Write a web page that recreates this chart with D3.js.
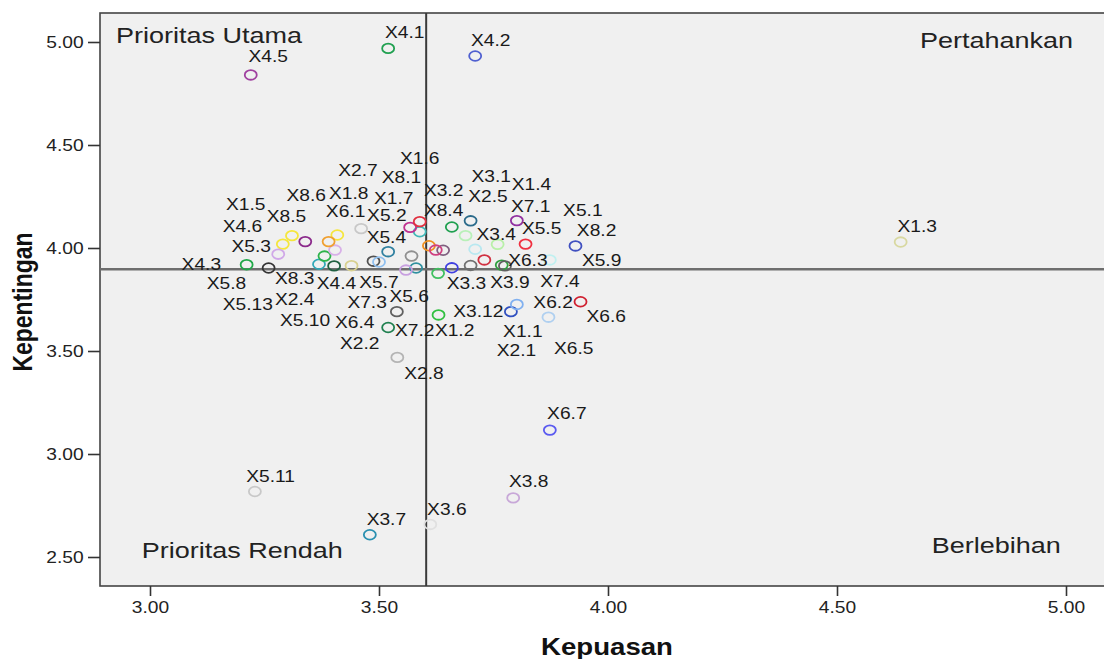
<!DOCTYPE html>
<html>
<head>
<meta charset="utf-8">
<script src="https://cdn.jsdelivr.net/npm/d3@7"></script>
<style>
body { margin: 0; background: #fff; }
svg { display: block; font-family: "Liberation Sans", Arial, sans-serif; }
</style>
</head>
<body>
<svg id="chart" width="1104" height="659"></svg>
<script>
// item names, satisfaction (x) and importance (y) means
const names = [
	"X1.1","X1.2","X1.3","X1.4","X1.5","X1.6","X1.7","X1.8",
	"X2.1","X2.2","X2.4","X2.5","X2.7","X2.8",
	"X3.1","X3.2","X3.3","X3.4","X3.6","X3.7","X3.8","X3.9","X3.12",
	"X4.1","X4.2","X4.3","X4.4","X4.5","X4.6",
	"X5.1","X5.2","X5.3","X5.4","X5.5","X5.6","X5.7","X5.8","X5.9","X5.10","X5.11","X5.13",
	"X6.1","X6.2","X6.3","X6.4","X6.5","X6.6","X6.7",
	"X7.1","X7.2","X7.3","X7.4",
	"X8.1","X8.2","X8.3","X8.4","X8.5","X8.6"
];
const kepuasan = [
	3.788,3.629,4.639,3.689,3.310,3.589,3.568,3.409,
	3.730,3.640,3.369,3.659,3.461,3.540,
	3.700,3.609,3.659,3.710,3.612,3.480,3.793,3.700,3.630,
	3.520,3.710,3.211,3.402,3.220,3.290,
	3.759,3.488,3.280,3.520,3.820,3.539,3.440,3.381,3.873,3.500,3.229,3.581,
	3.404,3.801,3.768,3.571,3.870,3.940,3.873,
	3.801,3.520,3.559,3.775,
	3.589,3.929,3.259,3.624,3.339,3.390
];
const kepentingan = [
	3.691,3.877,4.029,4.060,4.060,4.079,4.100,4.063,
	3.942,3.989,3.921,4.102,4.094,3.469,
	4.132,4.011,3.904,3.994,2.658,2.608,2.787,3.915,3.675,
	4.969,4.932,3.919,3.913,4.840,4.019,
	4.018,3.936,3.970,3.982,4.019,3.691,3.914,3.961,3.942,3.932,2.818,3.903,
	3.990,3.726,3.917,3.961,3.664,3.739,3.116,
	4.133,3.614,3.893,3.913,
	4.128,4.010,3.903,3.990,4.031,4.031
];
// where each point label sits, in data units (left edge, middle)
const labelX = [
	3.771,3.622,4.632,3.790,3.166,3.546,3.489,3.391,
	3.757,3.415,3.273,3.695,3.411,3.555,
	3.702,3.598,3.648,3.713,3.605,3.473,3.784,3.743,3.662,
	3.513,3.701,3.069,3.364,3.215,3.159,
	3.902,3.474,3.178,3.473,3.812,3.523,3.457,3.124,3.943,3.284,3.210,3.159,
	3.384,3.837,3.782,3.404,3.882,3.953,3.867,
	3.788,3.535,3.431,3.852,
	3.506,3.932,3.273,3.598,3.255,3.298
];
const labelY = [
	3.594,3.599,4.107,4.311,4.214,4.437,4.241,4.266,
	3.505,3.537,3.749,4.249,4.379,3.392,
	4.350,4.282,3.830,4.068,2.731,2.682,2.868,3.835,3.691,
	5.045,5.010,3.919,3.829,4.929,4.107,
	4.181,4.160,4.006,4.052,4.096,3.764,3.835,3.827,3.938,3.650,2.890,3.726,
	4.176,3.737,3.938,3.638,3.513,3.667,3.197,
	4.204,3.599,3.735,3.840,
	4.343,4.087,3.853,4.184,4.155,4.257
];
const pointColors = [
	"#3050c0","#40c060","#d8d8a0","#b8f0b8","#f5e63c","#40b8b8","#c03090","#f5e63c",
	"#d03040","#806080","#30a8b8","#20a050","#c8c8c8","#b4b4b4",
	"#2a6a8a","#f09020","#4040e0","#b8e8f0","#e0e0e0","#2a90b0","#c8a8d8","#707070","#30c040",
	"#20a050","#5060d0","#20a848","#206040","#a040a0","#f5e63c",
	"#b8f0a8","#505050","#d0a8e8","#3080a0","#f03040","#606060","#d8d090","#2db34a","#c0f0f0","#90c0f0","#c8c8c8","#3090a0",
	"#d8b0e8","#80b0f0","#30a040","#909090","#b0d0f0","#d02030","#5a5af0",
	"#9030a0","#208050","#c8a0e0","#606060",
	"#e03040","#4050c0","#333333","#d04080","#8b2a8b","#f0a030"
];

const xTicks = [3, 3.5, 4, 4.5, 5];
const yTicks = [2.5, 3, 3.5, 4, 4.5, 5];
const meanKepuasan = 3.603;
const meanKepentingan = 3.897;

const quadrants = ["Prioritas Utama", "Pertahankan", "Prioritas Rendah", "Berlebihan"];
const quadrantX = [2.926, 4.681, 2.982, 4.707];
const quadrantY = [5.034, 5.010, 2.533, 2.558];

// the source picture is stretched sideways, so text and markers are too
const SX = 1.2;
const FONT = "'Liberation Sans', Arial, sans-serif";

const svg = d3.select("#chart");
const plot = {left: 100, top: 13, bottom: 586, right: 1110};

const x = d3.scaleLinear().domain([3, 5]).range([150, 1066]);
const y = d3.scaleLinear().domain([2.5, 5]).range([557, 42]);

svg.append("rect")
	.attr("x", plot.left)
	.attr("y", plot.top)
	.attr("width", plot.right - plot.left)
	.attr("height", plot.bottom - plot.top)
	.attr("fill", "#f0f0f0")
	.attr("stroke", "#444")
	.attr("stroke-width", 1.6);

/* axes */
let yAxis = svg.append("g")
	.attr("transform", `translate(${plot.left},0)`)
	.call(d3.axisLeft(y).tickValues(yTicks).tickFormat(d3.format(".2f")).tickSize(12).tickPadding(1.7));
yAxis.attr("font-family", FONT).attr("font-size", 16);
yAxis.select(".domain").remove();
yAxis.selectAll("line").attr("stroke", "#333").attr("stroke-width", 1.6);
yAxis.selectAll("text").attr("fill", "#222").attr("transform", `scale(${SX},1)`);

let xAxis = svg.append("g")
	.attr("transform", `translate(0,${plot.bottom})`)
	.call(d3.axisBottom(x).tickValues(xTicks).tickFormat(d3.format(".2f")).tickSize(10).tickPadding(6));
xAxis.attr("font-family", FONT).attr("font-size", 16);
xAxis.select(".domain").remove();
xAxis.selectAll("line").attr("stroke", "#333").attr("stroke-width", 1.6);
xAxis.selectAll("text").attr("fill", "#222").attr("transform", `scale(${SX},1)`);

/* mean lines */
svg.append("line")
	.attr("x1", x(meanKepuasan)).attr("x2", x(meanKepuasan))
	.attr("y1", plot.top).attr("y2", plot.bottom)
	.attr("stroke", "#3a3a3a")
	.attr("stroke-width", 2);

svg.append("line")
	.attr("x1", plot.left).attr("x2", plot.right)
	.attr("y1", y(meanKepentingan)).attr("y2", y(meanKepentingan))
	.attr("stroke", "#6e6e6e")
	.attr("stroke-width", 2.6);

/* quadrant names */
svg.append("g")
	.selectAll("text")
	.data(quadrants)
	.join("text")
	.attr("transform", (d, i) => `translate(${x(quadrantX[i])},${y(quadrantY[i])}) scale(${SX},1)`)
	.attr("dy", "0.35em")
	.attr("font-family", FONT)
	.attr("font-size", 22.5)
	.attr("fill", "#222")
	.text(d => d);

/* points */
let points = names.map((n, i) => ({
	name: n, kx: kepuasan[i], ky: kepentingan[i],
	lx: labelX[i], ly: labelY[i], color: pointColors[i]
}));

svg.append("g")
	.selectAll("ellipse")
	.data(points)
	.join("ellipse")
	.attr("cx", d => x(d.kx))
	.attr("cy", d => y(d.ky))
	.attr("rx", 6)
	.attr("ry", 4.8)
	.attr("fill", "none")
	.attr("stroke", d => d.color)
	.attr("stroke-width", 1.8);

svg.append("g")
	.selectAll("text")
	.data(points)
	.join("text")
	.attr("transform", d => `translate(${x(d.lx)},${y(d.ly)}) scale(${SX},1)`)
	.attr("dy", "0.35em")
	.attr("font-family", FONT)
	.attr("font-size", 16)
	.attr("fill", "#1a1a1a")
	.text(d => d.name);

/* axis titles */
svg.append("text")
	.attr("transform", `translate(607,647) scale(${SX},1)`)
	.attr("text-anchor", "middle")
	.attr("dy", "0.35em")
	.attr("font-family", FONT)
	.attr("font-weight", "bold")
	.attr("font-size", 23)
	.attr("fill", "#111")
	.text("Kepuasan");

svg.append("text")
	.attr("transform", `translate(22,302) scale(${SX},1) rotate(-90)`)
	.attr("text-anchor", "middle")
	.attr("dy", "0.35em")
	.attr("font-family", FONT)
	.attr("font-weight", "bold")
	.attr("font-size", 23)
	.attr("fill", "#111")
	.text("Kepentingan");
</script>
</body>
</html>
